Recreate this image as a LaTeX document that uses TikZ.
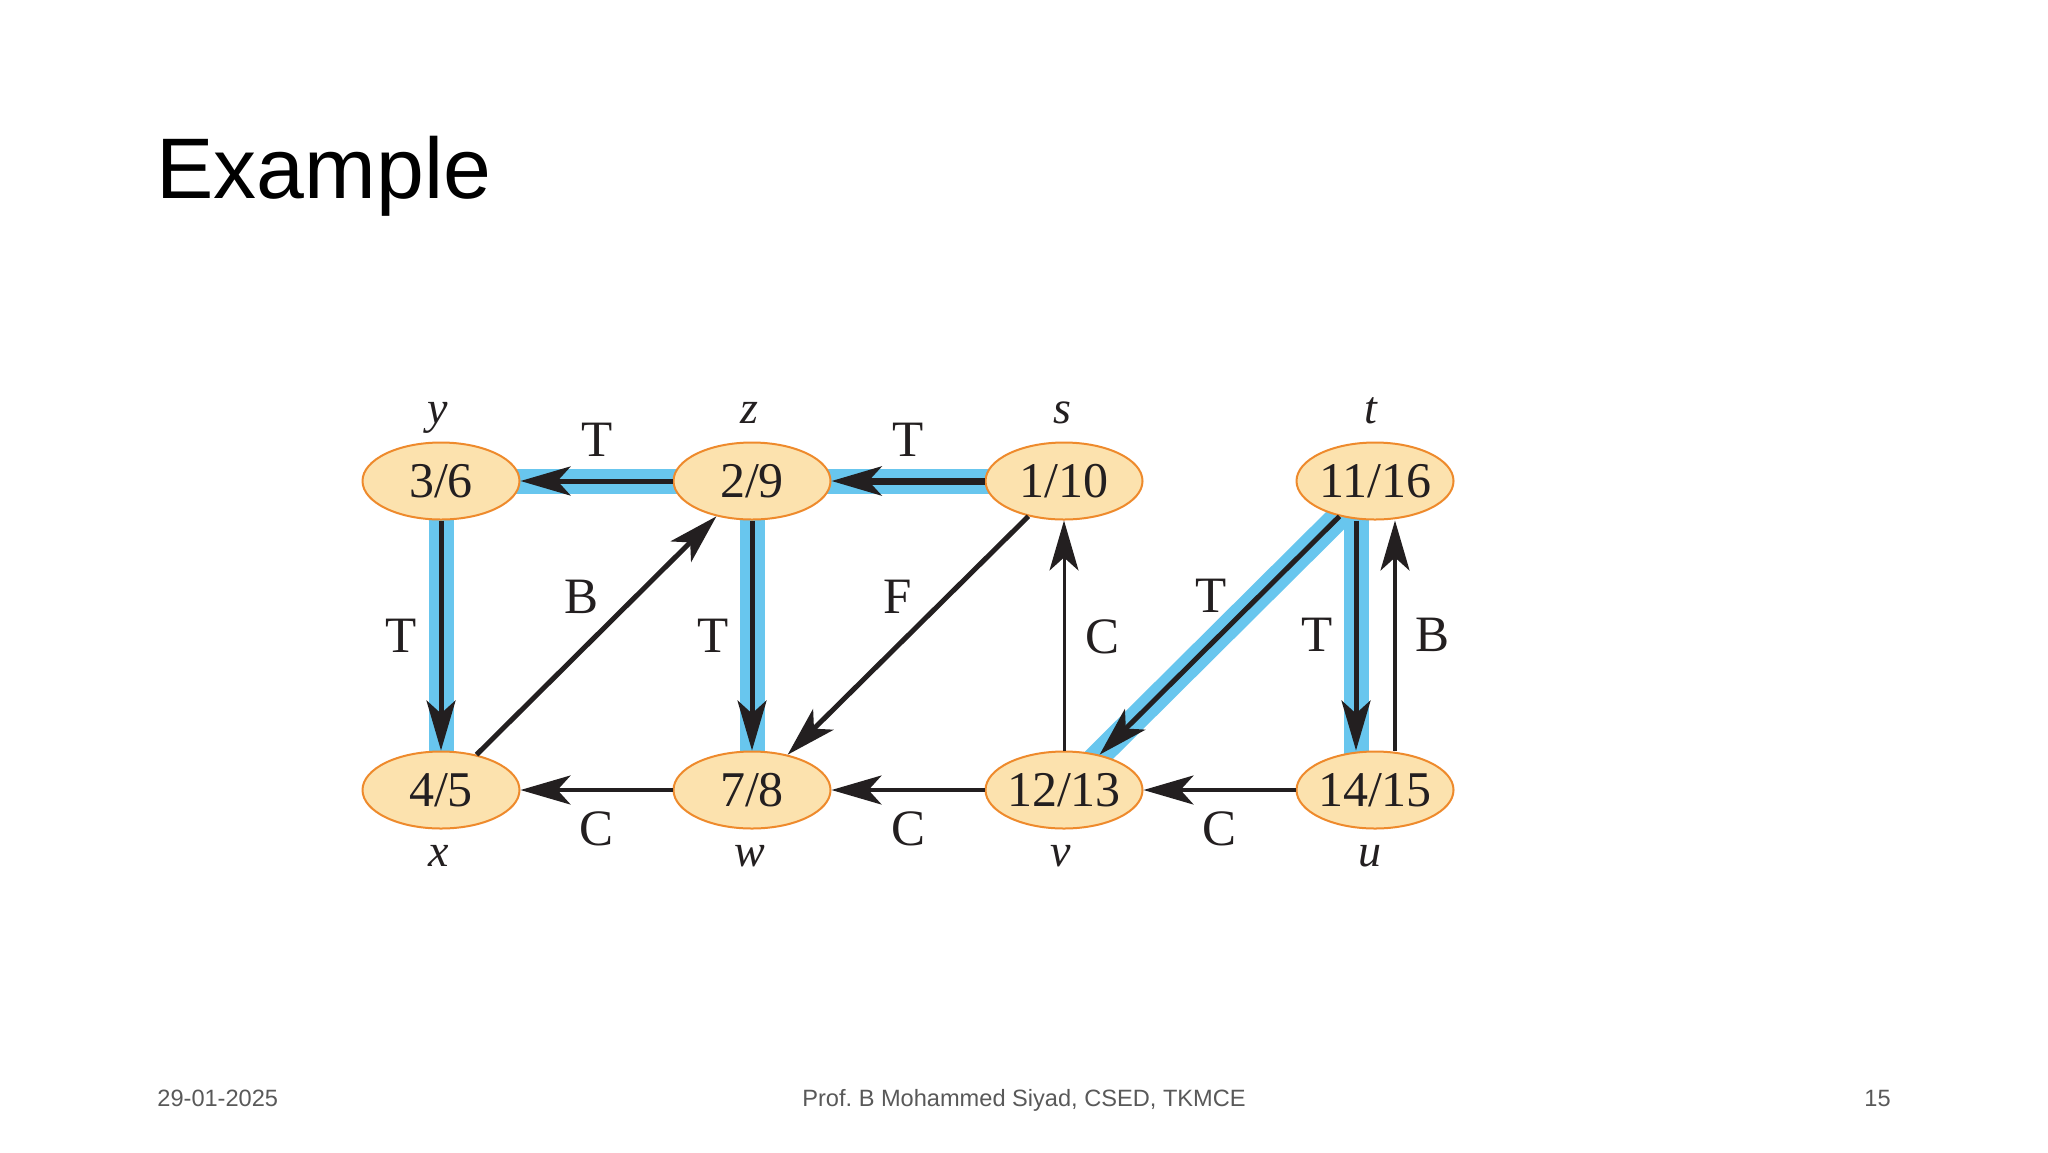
\documentclass[tikz,border=0pt]{standalone}
\usepackage{fontspec}
\setmainfont{Liberation Serif}
\newfontfamily\sansf{Liberation Sans}
\usetikzlibrary{arrows.meta,shapes.geometric}
\pgfdeclarelayer{background}
\pgfsetlayers{background,main}
\definecolor{vfill}{HTML}{FCE2AE}
\definecolor{vdraw}{HTML}{EE8A2C}
\definecolor{treeblue}{HTML}{68C6EE}
\definecolor{ink}{HTML}{231F20}
\definecolor{foot}{HTML}{595959}
\newcommand\vlab[1]{\makebox[0pt]{#1}}
\frenchspacing
\begin{document}
\begin{tikzpicture}[x=0.5pt,y=-0.5pt,
  vtx/.style={ellipse, draw=vdraw, fill=vfill, line width=1pt, minimum width=78.5pt,
    minimum height=38.5pt, inner sep=0pt, font=\fontsize{25}{26}\selectfont, text=ink},
  vname/.style={font=\fontsize{23}{24}\selectfont\itshape, text=ink, inner sep=0pt, anchor=base},
  elab/.style={font=\fontsize{25.5}{27}\selectfont, text=ink, inner sep=0pt},
  arr/.style={draw=ink, line width=2.5pt, -{Stealth[length=25pt,width=14.5pt,inset=6.5pt]}},
  band/.style={draw=treeblue, line width=12.5pt},
  foottext/.style={font=\sansf\fontsize{11.8}{13}\selectfont, text=foot, inner sep=0pt}
]
\useasboundingbox (0,0) rectangle (2048,1152);
\begin{pgfonlayer}{background}
\fill[white] (0,0) rectangle (2048,1152);
\end{pgfonlayer}

% title and footer
\node[anchor=base west, font=\sansf\fontsize{43}{50}\selectfont, inner sep=0pt] (title) at (156,198) {Example};
\node[foottext, anchor=base west] (date) at (157,1106) {29-01-2025};
\node[foottext, anchor=base] (author) at (1024,1106) {Prof.\ B Mohammed Siyad, CSED, TKMCE};
\node[foottext, anchor=base east] (page) at (1891,1106) {15};

% vertices
\node[vtx] (y) at (441,481) {\vlab{3/6}};
\node[vtx] (z) at (752,481) {\vlab{2/9}};
\node[vtx] (s) at (1064,481) {\vlab{1/10}};
\node[vtx] (t) at (1375,481) {\vlab{11/16}};
\node[vtx] (x) at (441,790) {\vlab{4/5}};
\node[vtx] (w) at (752,790) {\vlab{7/8}};
\node[vtx] (v) at (1064,790) {\vlab{12/13}};
\node[vtx] (u) at (1375,790) {\vlab{14/15}};

% vertex names
\node[vname] (ny) at (438,423) {y};
\node[vname] (nz) at (749,423) {z};
\node[vname] (ns) at (1062,423) {s};
\node[vname] (nt) at (1371,423) {t};
\node[vname] (nx) at (439,866) {x};
\node[vname] (nw) at (750,866) {w};
\node[vname] (nv) at (1061,866) {v};
\node[vname] (nu) at (1370,866) {u};

% tree-edge highlight
\begin{pgfonlayer}{background}
\draw[band] (y.center) -- (z.center);
\draw[band] (z.center) -- (s.center);
\draw[band] (y.center) -- (x.center);
\draw[band] (z.center) -- (w.center);
\draw[band] (t.center) -- (v.center);
\draw[band] ([xshift=-9.5pt]t.center) -- ([xshift=-9.5pt]u.center);
\end{pgfonlayer}

% edges
\draw[arr] (z) -- (y);
\draw[arr, line width=3.5pt] (s) -- (z);
\draw[arr] (y) -- (x);
\draw[arr] (z) -- (w);
\draw[arr] (x) -- (z);
\draw[arr] (s) -- (w);
\draw[arr, line width=1.5pt] (v) -- (s);
\draw[arr] (t) -- (v);
\draw[arr] ([xshift=-9.5pt]t.south) -- ([xshift=-9.5pt]u.north);
\draw[arr, line width=2pt] ([xshift=10pt]u.north) -- ([xshift=10pt]t.south);
\draw[arr, line width=2pt] (u) -- (v);
\draw[arr, line width=2pt] (v) -- (w);
\draw[arr, line width=2pt] (w) -- (x);

% edge labels
\node[elab] (l1) at (597,440) {T};
\node[elab] (l2) at (908,440) {T};
\node[elab] (l3) at (401,636) {T};
\node[elab] (l4) at (581,597) {B};
\node[elab] (l5) at (713,636) {T};
\node[elab] (l6) at (898,597) {F};
\node[elab] (l7) at (1102,637) {C};
\node[elab] (l8) at (1211,596) {T};
\node[elab] (l9) at (1317,635) {T};
\node[elab] (l10) at (1432,635) {B};
\node[elab] (l11) at (596,829) {C};
\node[elab] (l12) at (908,829) {C};
\node[elab] (l13) at (1219,829) {C};
\end{tikzpicture}
\end{document}
